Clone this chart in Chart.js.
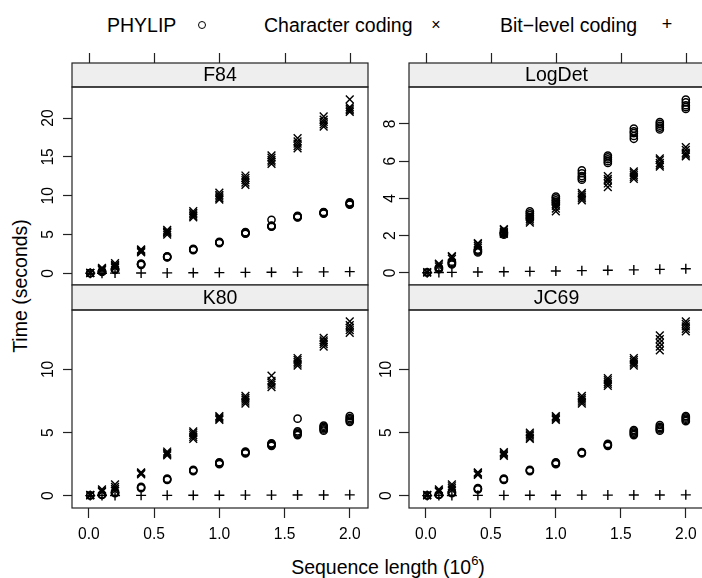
<!DOCTYPE html>
<html>
<head>
<meta charset="utf-8">
<script src="https://cdn.jsdelivr.net/npm/chart.js@4"></script>
<style>
  html, body { margin: 0; padding: 0; background: #fff; overflow: hidden; width: 702px; height: 578px; }
  body { position: relative; font-family: "Liberation Sans", Arial, sans-serif; color: #000; }
  canvas { position: absolute; }
  .txt { position: absolute; white-space: nowrap; font-size: 19.5px; line-height: 1; }
  .sym { position: absolute; transform: translate(-50%, -50%); }
</style>
</head>
<body>
<div class="txt" style="left:107px; top:16px;">PHYLIP</div>
<div class="sym" style="left:202px; top:25px; width:6px; height:6px; border:1.2px solid #000; border-radius:50%;"></div>
<div class="txt" style="left:264px; top:16px;">Character coding</div>
<div class="sym" style="left:436px; top:25px; font-size:16px;">×</div>
<div class="txt" style="left:500px; top:16px;">Bit−level coding</div>
<div class="sym" style="left:667px; top:24px; font-size:18px;">+</div>

<div class="txt" style="left:21px; top:286px; transform: translate(-50%, -50%) rotate(-90deg);">Time (seconds)</div>
<div class="txt" style="left:388px; top:566px; transform: translate(-50%, -50%);">Sequence length (10<sup style="font-size:13px; vertical-align: 9px;">6</sup>)</div>

<canvas id="cF84" width="372" height="261" style="left:0px; top:40px;"></canvas>
<canvas id="cLogDet" width="340" height="261" style="left:372px; top:40px;"></canvas>
<canvas id="cK80" width="372" height="298" style="left:0px; top:280px;"></canvas>
<canvas id="cJC69" width="340" height="298" style="left:372px; top:280px;"></canvas>

<script>
// sequence length in millions, several runs per length
var seqLength = [0.01, 0.1, 0.2, 0.4, 0.6, 0.8, 1.0, 1.2, 1.4, 1.6, 1.8, 2.0];
var xTicks = [0, 0.5, 1, 1.5, 2];
var xRange = [-0.13, 2.14];

// F84
var f84Phylip = [[0.02,0.03,0.04],[0.2,0.25,0.3],[0.45,0.5,0.6],[1.1,1.15,1.2,1.25],[2.05,2.1,2.15,2.2],
  [3.0,3.05,3.1,3.15],[3.9,3.95,4.0,4.05],[5.1,5.15,5.2,5.25,5.3],[6.0,6.05,6.1,6.15,6.9],
  [7.2,7.25,7.3,7.35,7.4],[7.7,7.75,7.8,7.85,7.9],[8.85,8.9,9.0,9.05,9.15]];
var f84Char = [[0.03,0.05,0.07],[0.4,0.5,0.6,0.7],[0.7,0.85,1.0,1.1,1.3],[2.7,2.8,2.9,3.0,3.1],
  [5.0,5.2,5.3,5.4,5.6],[7.2,7.4,7.6,7.8,8.0],[9.5,9.7,9.9,10.1,10.4],[11.4,11.7,12.0,12.3,12.6],
  [14.1,14.4,14.6,14.9,15.2],[16.1,16.4,16.7,17.0,17.4],[18.9,19.2,19.5,19.8,20.2],[20.8,21.0,21.2,21.4,22.4]];
var f84Bit = [[0.01],[0.02],[0.03],[0.04],[0.06],[0.08],[0.1],[0.12],[0.14],[0.16],[0.19],[0.22]];
var f84Ticks = [0, 5, 10, 15, 20];
var f84Range = [-1.5, 24.0];

// LogDet
var logdetPhylip = [[0.02,0.03],[0.2,0.25,0.3],[0.45,0.5,0.55,0.6],[1.1,1.15,1.2,1.25],[2.05,2.1,2.15,2.2],
  [2.9,3.0,3.1,3.2,3.3],[3.7,3.8,3.9,4.0,4.1],[5.0,5.1,5.2,5.35,5.5],[5.9,6.0,6.1,6.2,6.3],
  [7.2,7.35,7.5,7.6,7.75],[7.7,7.8,7.9,8.0,8.1],[8.8,8.9,9.0,9.15,9.3]];
var logdetChar = [[0.02,0.04],[0.35,0.45,0.5],[0.75,0.85,0.9],[1.35,1.45,1.55,1.6],[2.1,2.15,2.2,2.3,2.35],
  [2.7,2.8,2.9,3.0,3.1],[3.3,3.45,3.6,3.7,3.85],[3.9,4.0,4.1,4.2,4.3],[4.6,4.8,4.95,5.05,5.2],
  [5.05,5.15,5.25,5.35,5.45],[5.7,5.8,5.9,6.05,6.15],[6.25,6.35,6.45,6.6,6.75]];
var logdetBit = [[0.01],[0.02],[0.03],[0.05],[0.06],[0.08],[0.1],[0.12],[0.14],[0.16],[0.19],[0.22]];
var logdetTicks = [0, 2, 4, 6, 8];
var logdetRange = [-0.65, 9.98];

// K80
var k80Phylip = [[0.02,0.03],[0.06,0.08,0.1],[0.2,0.25,0.3],[0.6,0.65,0.7],[1.25,1.3,1.35],[1.95,2.0,2.05],
  [2.5,2.55,2.6,2.65],[3.35,3.4,3.45,3.5],[3.95,4.0,4.05,4.1,4.15],[4.8,4.9,5.0,5.1,6.1],
  [5.15,5.25,5.35,5.45,5.55],[5.85,5.95,6.05,6.15,6.3]];
var k80Char = [[0.03,0.05,0.07],[0.3,0.4,0.5],[0.4,0.55,0.7,0.9],[1.7,1.75,1.8,1.85],[3.2,3.3,3.4,3.5],
  [4.5,4.65,4.8,4.95,5.1],[6.0,6.1,6.2,6.3],[7.3,7.45,7.6,7.75,7.9],[8.6,8.8,8.95,9.1,9.5],
  [10.3,10.45,10.6,10.75,10.9],[11.8,12.0,12.15,12.3,12.5],[12.9,13.1,13.3,13.5,13.8]];
var k80Bit = [[0.01],[0.02],[0.02],[0.03],[0.03],[0.04],[0.04],[0.05],[0.05],[0.06],[0.06],[0.07]];
var k80Ticks = [0, 5, 10];
var k80Range = [-0.97, 14.7];

// JC69
var jc69Phylip = [[0.02,0.03],[0.06,0.08,0.1],[0.2,0.25,0.3],[0.5,0.55,0.6],[1.25,1.3,1.35],[1.95,2.0,2.05],
  [2.5,2.55,2.6,2.65],[3.35,3.4,3.45],[3.95,4.0,4.05,4.1],[4.8,4.9,5.0,5.1,5.2],
  [5.15,5.25,5.35,5.45,5.6],[5.9,6.0,6.1,6.2,6.3]];
var jc69Char = [[0.03,0.05,0.07],[0.3,0.4,0.5],[0.45,0.6,0.75,0.9],[1.65,1.7,1.8,1.85],[3.15,3.25,3.35,3.45],
  [4.5,4.6,4.75,4.85,5.0],[6.0,6.1,6.2,6.3],[7.3,7.45,7.6,7.75,7.9],[8.7,8.85,9.0,9.15,9.3],
  [10.3,10.45,10.6,10.75,10.9],[11.5,11.8,12.1,12.4,12.7],[13.0,13.2,13.4,13.6,13.8]];
var jc69Bit = [[0.01],[0.02],[0.02],[0.03],[0.03],[0.04],[0.04],[0.05],[0.05],[0.06],[0.06],[0.07]];
var jc69Ticks = [0, 5, 10];
var jc69Range = [-0.97, 14.7];

var fontFamily = '"Liberation Sans", Arial, sans-serif';

function toPoints(reps) {
  var pts = [];
  seqLength.forEach(function(x, i) {
    reps[i].forEach(function(y) { pts.push({x: x, y: y}); });
  });
  return pts;
}

// grey strip with the panel name, panel box, and ticks above the strip on the top row
var stripPlugin = {
  id: 'strip',
  afterDraw: function(chart, args, opts) {
    var ctx = chart.ctx;
    var a = chart.chartArea;
    var h = opts.height;
    ctx.save();
    ctx.fillStyle = '#eeeeee';
    ctx.fillRect(a.left, a.top - h, a.right - a.left, h);
    ctx.strokeStyle = '#222';
    ctx.lineWidth = 1.2;
    ctx.strokeRect(a.left, a.top - h, a.right - a.left, h);
    ctx.strokeRect(a.left, a.top, a.right - a.left, a.bottom - a.top);
    ctx.fillStyle = '#000';
    ctx.font = '19.5px ' + fontFamily;
    ctx.textAlign = 'center';
    ctx.textBaseline = 'middle';
    ctx.fillText(opts.title, (a.left + a.right) / 2, a.top - h / 2 + 1);
    if (opts.topTicks) {
      var xs = chart.scales.x;
      ctx.beginPath();
      xTicks.forEach(function(v) {
        var px = Math.round(xs.getPixelForValue(v)) + 0.5;
        ctx.moveTo(px, a.top - h - 10);
        ctx.lineTo(px, a.top - h);
      });
      ctx.stroke();
    }
    ctx.restore();
  }
};

function makePanel(id, title, phylip, chr, bit, yRange, yTicks, isTop, isLeft) {
  var yWidth = isLeft ? 72 : 37;
  var cfg = {
    type: 'scatter',
    data: {
      datasets: [
        { label: 'PHYLIP', data: toPoints(phylip), pointStyle: 'circle', pointRadius: 3.6,
          borderWidth: 1.5, borderColor: '#000', backgroundColor: 'rgba(0,0,0,0)' },
        { label: 'Character coding', data: toPoints(chr), pointStyle: 'crossRot', pointRadius: 5.5,
          borderWidth: 1.4, borderColor: '#000', backgroundColor: '#000' },
        { label: 'Bit-level coding', data: toPoints(bit), pointStyle: 'cross', pointRadius: 5,
          borderWidth: 1.4, borderColor: '#000', backgroundColor: '#000' }
      ]
    },
    options: {
      responsive: false,
      animation: false,
      events: [],
      layout: {
        autoPadding: false,
        padding: { top: isTop ? 47 : 30, bottom: 0, left: 0, right: isLeft ? 4 : 8 }
      },
      plugins: {
        legend: { display: false },
        tooltip: { enabled: false },
        strip: { title: title, topTicks: isTop, height: isTop ? 24 : 25 }
      },
      scales: {
        x: {
          type: 'linear',
          position: 'bottom',
          min: xRange[0],
          max: xRange[1],
          afterBuildTicks: function(s) { s.ticks = xTicks.map(function(v) { return {value: v}; }); },
          afterFit: function(s) { s.height = isTop ? 16 : 70; },
          border: { display: false },
          grid: { display: !isTop, drawOnChartArea: false, tickLength: 10, tickColor: '#222', tickWidth: 1.2 },
          ticks: {
            display: !isTop,
            color: '#000', padding: 7, maxRotation: 0,
            font: { family: fontFamily, size: 15.6 },
            callback: function(v) { return v.toFixed(1); }
          }
        },
        y: {
          type: 'linear',
          position: 'left',
          min: yRange[0],
          max: yRange[1],
          afterBuildTicks: function(s) { s.ticks = yTicks.map(function(v) { return {value: v}; }); },
          afterFit: function(s) { s.width = yWidth; },
          border: { display: false },
          grid: { drawOnChartArea: false, tickLength: isLeft ? 9 : 10, tickColor: '#222', tickWidth: 1.2 },
          ticks: {
            color: '#000', minRotation: 90, maxRotation: 90, crossAlign: 'center',
            padding: isLeft ? 6 : 4,
            font: { family: fontFamily, size: 15.6 }
          }
        }
      }
    },
    plugins: [stripPlugin]
  };
  return new Chart(document.getElementById(id), cfg);
}

makePanel('cF84', 'F84', f84Phylip, f84Char, f84Bit, f84Range, f84Ticks, true, true);
makePanel('cLogDet', 'LogDet', logdetPhylip, logdetChar, logdetBit, logdetRange, logdetTicks, true, false);
makePanel('cK80', 'K80', k80Phylip, k80Char, k80Bit, k80Range, k80Ticks, false, true);
makePanel('cJC69', 'JC69', jc69Phylip, jc69Char, jc69Bit, jc69Range, jc69Ticks, false, false);
</script>
</body>
</html>
